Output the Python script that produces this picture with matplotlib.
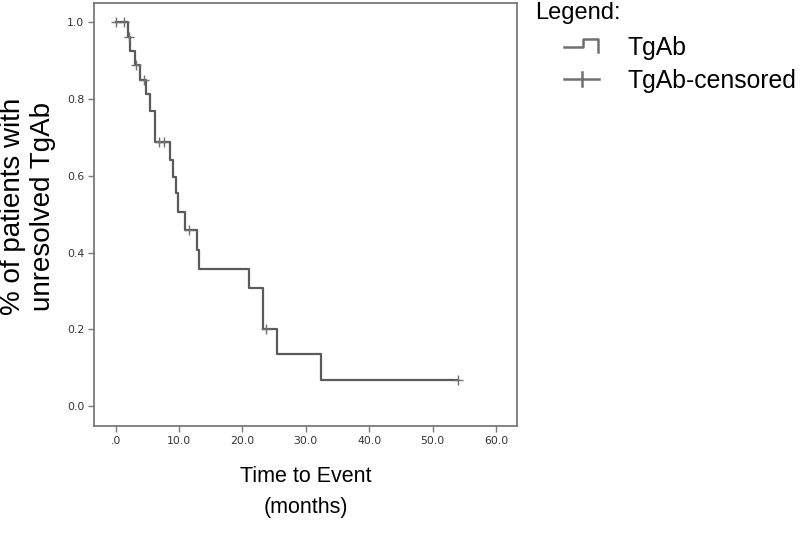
import numpy as np
import matplotlib
matplotlib.use('Agg')
from matplotlib import pyplot as plt
from matplotlib.lines import Line2D

# === Données (Kaplan-Meier) ===
event_times = [0.0, 2.0, 2.3, 3.1, 3.8, 4.8, 5.5, 6.2, 8.6, 9.1, 9.6, 9.85,
               10.95, 12.9, 13.2, 21.1, 23.2, 25.4, 32.4]
survival = [1.0, 0.961, 0.925, 0.889, 0.849, 0.812, 0.770, 0.687, 0.642,
            0.596, 0.554, 0.505, 0.459, 0.407, 0.357, 0.307, 0.202, 0.135,
            0.068]
end_time = 54.0
censored_times = [0.0, 1.3, 2.15, 3.2, 4.5, 6.9, 7.7, 11.6, 23.7, 54.0]

x_ticks = [0, 10, 20, 30, 40, 50, 60]
x_labels = ['.0', '10.0', '20.0', '30.0', '40.0', '50.0', '60.0']
y_ticks = [0.0, 0.2, 0.4, 0.6, 0.8, 1.0]
y_labels = ['0.0', '0.2', '0.4', '0.6', '0.8', '1.0']

line_col = '#5a5a5a'
frame_col = '#7a7a7a'
label_font = ['Liberation Sans', 'DejaVu Sans']

fig = plt.figure(figsize=(8, 5.45), dpi=100, facecolor='white')
ax = fig.add_axes([0.1175, 0.218, 0.5288, 0.7765])

# courbe en escalier
t = np.append(event_times, end_time)
s = np.append(survival, survival[-1])
ax.step(t, s, where='post', color=line_col, lw=1.6)

# censures
idx = np.searchsorted(event_times, censored_times, side='right') - 1
cens_s = np.array(survival)[idx]
ax.plot(censored_times, cens_s, ls='none', marker='+', ms=7, mew=1.0,
        color='#707070')

ax.set_xlim(-3.4, 63.3)
ax.set_ylim(-0.052, 1.05)
ax.set_xticks(x_ticks)
ax.set_xticklabels(x_labels)
ax.set_yticks(y_ticks)
ax.set_yticklabels(y_labels)
ax.tick_params(direction='out', length=4, width=1.0, color=frame_col,
               labelsize=7.8, labelcolor='#333333', pad=3)
for sp in ax.spines.values():
    sp.set_color(frame_col)
    sp.set_linewidth(1.3)

ax.set_ylabel('% of patients with\nunresolved TgAb', fontsize=20,
              family=label_font, linespacing=1.2, va='center')
ax.yaxis.set_label_coords(-0.155, 0.52)
fig.text(0.382, 0.097, 'Time to Event\n(months)', ha='center', va='center',
         fontsize=15.5, family=label_font, linespacing=1.65)

# === Légende ===
fig.text(0.669, 0.976, 'Legend:', ha='left', va='center', fontsize=17,
         family=label_font)
fig.add_artist(Line2D([0.705, 0.729, 0.729, 0.748, 0.748],
                      [0.913, 0.913, 0.928, 0.928, 0.904],
                      transform=fig.transFigure, color='#707070', lw=1.8))
fig.text(0.785, 0.912, 'TgAb', ha='left', va='center', fontsize=17.8,
         family=label_font)
fig.add_artist(Line2D([0.705, 0.749], [0.855, 0.855],
                      transform=fig.transFigure, color='#707070', lw=1.8))
fig.add_artist(Line2D([0.727, 0.727], [0.842, 0.868],
                      transform=fig.transFigure, color='#707070', lw=1.8))
fig.text(0.785, 0.852, 'TgAb-censored', ha='left', va='center', fontsize=17.8,
         family=label_font)

fig.savefig('out.png', dpi=100, facecolor='white')
